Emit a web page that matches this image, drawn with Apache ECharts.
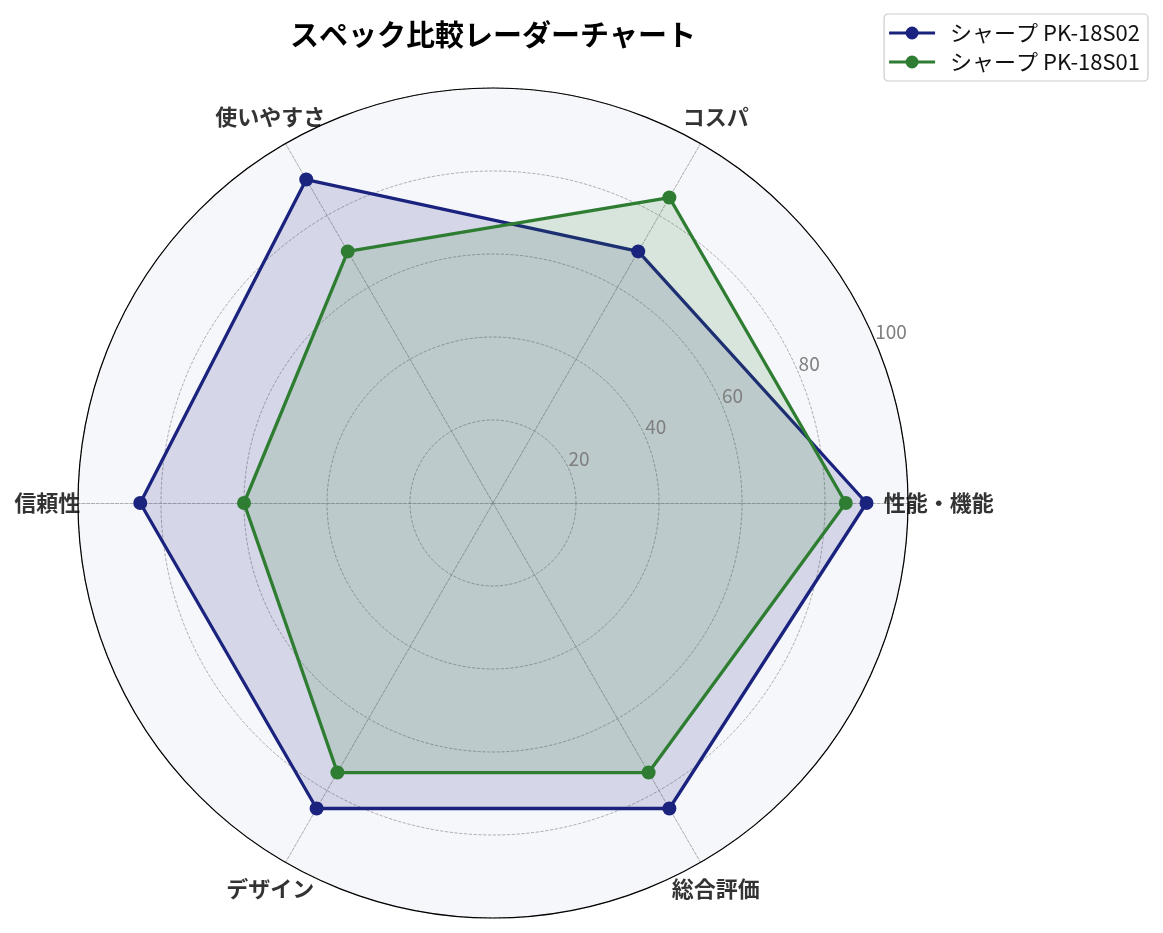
<!DOCTYPE html>
<html>
<head>
<meta charset="utf-8">
<title>スペック比較レーダーチャート</title>
<script src="https://cdn.jsdelivr.net/npm/echarts@6/dist/echarts.min.js"></script>
<style>
  html, body { margin: 0; padding: 0; background: #fff; }
  #main { width: 1163px; height: 933px; }
</style>
</head>
<body>
<div id="main"></div>
<script>
// 軸の項目（反時計回り、右から）
var indicators = ['性能・機能', 'コスパ', '使いやすさ', '信頼性', 'デザイン', '総合評価'];
// 各機種のスコア
var pk18s02 = [90, 70, 90, 85, 85, 85];
var pk18s01 = [85, 85, 70, 60, 75, 75];
var seriesNames = ['シャープ PK-18S02', 'シャープ PK-18S01'];
// 目盛り
var radialTicks = [0, 20, 40, 60, 80, 100];

var FONT = '"Noto Sans CJK JP", "Noto Sans", sans-serif';
var CX = 493, CY = 503, R = 415;
var NAME_R = 107.4; // ラベル位置（値の単位）

var legendIcon = 'path://M0,5.5L46,5.5L46,8.5L0,8.5Z M16.5,7A6.5,6.5,0,1,1,29.5,7A6.5,6.5,0,1,1,16.5,7Z';

var myChart = echarts.init(document.getElementById('main'));

var option = {
    backgroundColor: '#ffffff',
    textStyle: { fontFamily: FONT },
    title: {
        text: 'スペック比較レーダーチャート',
        left: 290,
        top: 20,
        padding: 0,
        textStyle: { fontSize: 29, fontWeight: 'bold', color: '#000', fontFamily: FONT }
    },
    legend: {
        data: seriesNames,
        orient: 'vertical',
        right: 15,
        top: 14,
        padding: [8, 8, 8, 5],
        itemGap: 7,
        itemWidth: 46,
        itemHeight: 14,
        icon: legendIcon,
        borderColor: '#cccccc',
        borderWidth: 1.2,
        borderRadius: 4,
        backgroundColor: '#ffffff',
        itemStyle: { borderWidth: 0 },
        textStyle: { fontSize: 22, color: '#111', lineHeight: 22, padding: [0, 0, 0, 10], fontFamily: FONT }
    },
    radar: {
        center: [CX, CY],
        radius: R,
        shape: 'circle',
        startAngle: 0,
        splitNumber: 5,
        indicator: indicators.map(function (n) { return { name: n, min: 0, max: 100 }; }),
        axisName: { show: false },
        axisLine: { lineStyle: { color: '#999', type: 'dashed', width: 0.8 } },
        splitLine: { lineStyle: { color: '#999', type: 'dashed', width: 0.8 } },
        splitArea: { show: true, areaStyle: { color: ['#f6f7fb'] } },
        axisTick: { show: false },
        axisLabel: { show: false }
    },
    polar: [
        { center: [CX, CY], radius: R },
        { center: [CX, CY], radius: R }
    ],
    angleAxis: [
        {
            polarIndex: 0,
            type: 'value', min: 0, max: 360,
            startAngle: 22.5, clockwise: false,
            z: 3,
            axisLine: { show: true, lineStyle: { color: '#000', width: 1.2 } },
            axisTick: { show: false },
            axisLabel: { show: false },
            splitLine: { show: false }
        },
        {
            polarIndex: 1,
            type: 'value', min: 0, max: 360,
            startAngle: 0, clockwise: false,
            show: false
        }
    ],
    radiusAxis: [
        {
            polarIndex: 0,
            min: radialTicks[0],
            max: radialTicks[radialTicks.length - 1],
            interval: 20,
            z: 5,
            axisLine: { show: false },
            axisTick: { show: false },
            splitLine: { show: false },
            axisLabel: {
                show: true,
                color: '#808080',
                fontSize: 19,
                align: 'left',
                verticalAlign: 'bottom',
                margin: 3,
                formatter: function (v) { return v === 0 ? '' : String(v); }
            }
        },
        {
            polarIndex: 1,
            min: 0, max: 100,
            show: false
        }
    ],
    series: [
        {
            type: 'radar',
            symbol: 'circle',
            symbolSize: 14,
            z: 2,
            data: [
                {
                    name: seriesNames[0],
                    value: pk18s02,
                    itemStyle: { color: '#1a237e' },
                    lineStyle: { color: '#1a237e', width: 3.3 },
                    areaStyle: { color: '#1a237e', opacity: 0.15 }
                },
                {
                    name: seriesNames[1],
                    value: pk18s01,
                    itemStyle: { color: '#2e7d32' },
                    lineStyle: { color: '#2e7d32', width: 3.3 },
                    areaStyle: { color: '#2e7d32', opacity: 0.15 }
                }
            ]
        },
        {
            // 軸ラベル（項目名）
            type: 'scatter',
            coordinateSystem: 'polar',
            polarIndex: 1,
            symbolSize: 0,
            clip: false,
            silent: true,
            z: 6,
            data: indicators.map(function (n, i) {
                return { name: n, value: [NAME_R, i * 360 / indicators.length] };
            }),
            label: {
                show: true,
                position: 'inside',
                formatter: '{b}',
                color: '#000',
                fontSize: 22,
                fontWeight: 'bold',
                fontFamily: FONT
            }
        }
    ]
};

myChart.setOption(option);
</script>
</body>
</html>
